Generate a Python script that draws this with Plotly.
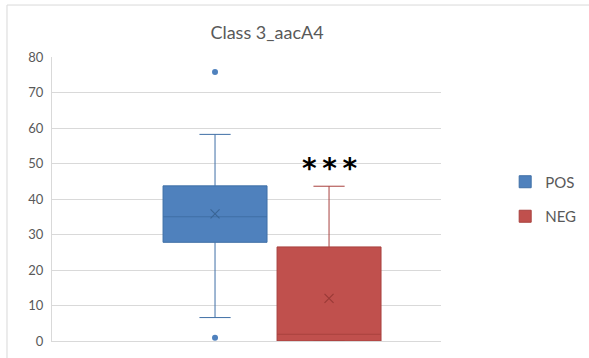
import plotly.graph_objects as go

# ---- data ----
groups = ["POS", "NEG"]
positions = [0, 1]
q1_vals = [27.8, 0.0]
median_vals = [35.0, 1.9]
q3_vals = [43.7, 26.5]
lower_whisker = [6.6, 0.0]
upper_whisker = [58.2, 43.6]
mean_vals = [35.8, 12.0]
outliers = [[75.8, 0.9], []]
fill_colors = ["#4F81BD", "#C0504D"]
line_colors = ["#3F6FA6", "#A8413E"]
mean_colors = ["#3A6596", "#9A3A37"]
y_ticks = [0, 10, 20, 30, 40, 50, 60, 70, 80]
title_text = "Class 3_aacA4"
signif_text = "<b>*\u2009*\u2009*</b>"
signif_level = 48.5

FONT = "Lato"
GRAY = "#595959"

fig = go.Figure()
for i, g in enumerate(groups):
    fig.add_trace(go.Box(
        name=g,
        x=[positions[i]],
        q1=[q1_vals[i]], median=[median_vals[i]], q3=[q3_vals[i]],
        lowerfence=[lower_whisker[i]], upperfence=[upper_whisker[i]],
        fillcolor=fill_colors[i],
        line=dict(color=line_colors[i], width=1),
        width=0.912,
        whiskerwidth=0.3,
        boxpoints=False,
        legendgroup=g,
        hoverinfo="skip",
    ))
    fig.add_trace(go.Scatter(
        x=[positions[i]], y=[mean_vals[i]], mode="markers",
        marker=dict(symbol="x-thin", size=9, line=dict(color=mean_colors[i], width=1.2)),
        showlegend=False, hoverinfo="skip",
    ))
    if outliers[i]:
        fig.add_trace(go.Scatter(
            x=[positions[i]] * len(outliers[i]), y=outliers[i], mode="markers",
            marker=dict(symbol="circle", size=6, color=fill_colors[i]),
            showlegend=False, hoverinfo="skip",
        ))

fig.add_annotation(
    x=positions[1], y=signif_level, xref="x", yref="y",
    text=signif_text, showarrow=False,
    font=dict(family="DejaVu Sans", size=28, color="black"),
    yanchor="middle",
)

# chart-area border (top and left edges visible)
fig.add_shape(type="rect", xref="paper", yref="paper",
              x0=-0.1157, x1=2.0, y0=-1.0, y1=1.183,
              line=dict(color="#D9D9D9", width=1), fillcolor="rgba(0,0,0,0)", layer="below")

fig.update_layout(
    width=589, height=358,
    margin=dict(l=52, r=148, t=57, b=17, autoexpand=False),
    paper_bgcolor="white", plot_bgcolor="white",
    title=dict(text=title_text, x=267 / 589, xanchor="center",
               y=1 - 33 / 358, yanchor="middle",
               font=dict(family=FONT, size=18, color=GRAY)),
    showlegend=True,
    legend=dict(x=1.165, y=0.618, xanchor="left", yanchor="top",
                font=dict(family=FONT, size=15, color=GRAY),
                tracegroupgap=12, itemwidth=30,
                bgcolor="rgba(0,0,0,0)"),
    xaxis=dict(range=[-1.43, 1.982], showticklabels=False, showgrid=False,
               zeroline=False, showline=True, linecolor="#D9D9D9", linewidth=1,
               fixedrange=True),
    yaxis=dict(range=[0, 80], tickvals=y_ticks, showgrid=True, gridcolor="#D9D9D9",
               gridwidth=1, zeroline=False, showline=True, linecolor="#D9D9D9",
               tickfont=dict(family=FONT, size=13, color=GRAY),
               ticklabelstandoff=5, fixedrange=True),
)

fig.write_html("out.html", config={"displayModeBar": False},
               post_script="document.body.style.margin='0px';")
